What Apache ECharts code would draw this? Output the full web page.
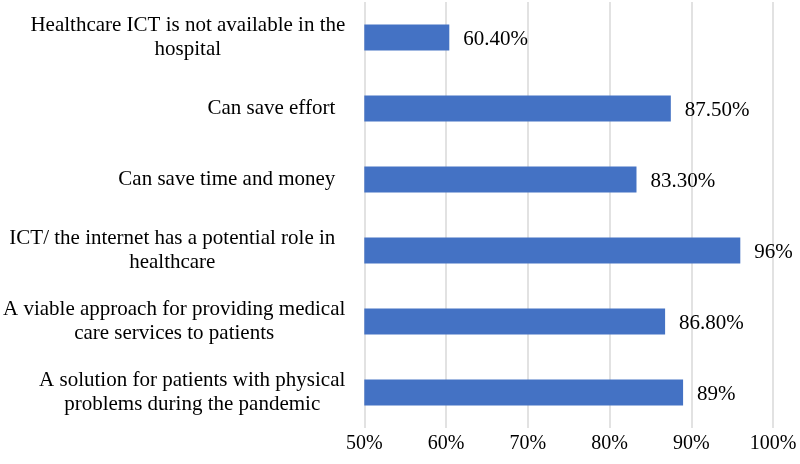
<!DOCTYPE html>
<html>
<head>
<meta charset="utf-8">
<script src="https://cdn.jsdelivr.net/npm/echarts@6/dist/echarts.min.js"></script>
<style>html,body{margin:0;padding:0;background:#fff}#c{width:800px;height:464px}</style>
</head>
<body>
<div id="c"></div>
<script>
const categories = [
  "Healthcare ICT is not available in the\nhospital",
  "Can save effort",
  "Can save time and money",
  "ICT/ the internet has a potential role in\nhealthcare",
  "A viable approach for providing medical\ncare services to patients",
  "A solution for patients with physical\nproblems during the pandemic"
];
const values = [60.4, 87.5, 83.3, 96, 86.8, 89];
const valueLabels = ["60.40%", "87.50%", "83.30%", "96%", "86.80%", "89%"];
const tickMin = 50, tickMax = 100, tickStep = 10;

const FONT = '"Liberation Serif", "Times New Roman", serif';
const paddedIdx = [1, 2, 3];

const chart = echarts.init(document.getElementById('c'), null, {renderer: 'canvas'});
chart.setOption({
  animation: false,
  backgroundColor: '#fff',
  grid: {left: 360, right: 27, top: 2, bottom: 36, containLabel: false},
  xAxis: {
    type: 'value',
    min: tickMin, max: tickMax, interval: tickStep,
    axisLine: {show: false},
    axisTick: {show: false},
    splitLine: {show: true, lineStyle: {color: '#d9d9d9', width: 1.5}},
    axisLabel: {
      formatter: '{value}%',
      color: '#000', fontFamily: FONT, fontSize: 20, margin: 6
    }
  },
  yAxis: {
    type: 'category',
    inverse: true,
    data: categories,
    axisLine: {show: false},
    axisTick: {show: false},
    axisLabel: {
      margin: 19,
      formatter: function (v, i) {
        const st = paddedIdx.indexOf(i) >= 0 ? 'p' : 'c';
        return v.split('\n').map(l => '{' + st + '|' + l + '}').join('\n');
      },
      rich: {
        c: {align: 'center', fontFamily: FONT, fontSize: 21, lineHeight: 24, color: '#000'},
        p: {align: 'center', fontFamily: FONT, fontSize: 21, lineHeight: 24, color: '#000', padding: [0, 10, 0, 0]}
      }
    }
  },
  series: [{
    type: 'bar',
    data: values,
    barWidth: 26,
    itemStyle: {color: '#4472C4'},
    label: {
      show: true,
      position: 'right',
      distance: 14,
      offset: [0, 2],
      color: '#000',
      fontFamily: FONT,
      fontSize: 21,
      formatter: p => valueLabels[p.dataIndex]
    }
  }]
});
</script>
</body>
</html>
